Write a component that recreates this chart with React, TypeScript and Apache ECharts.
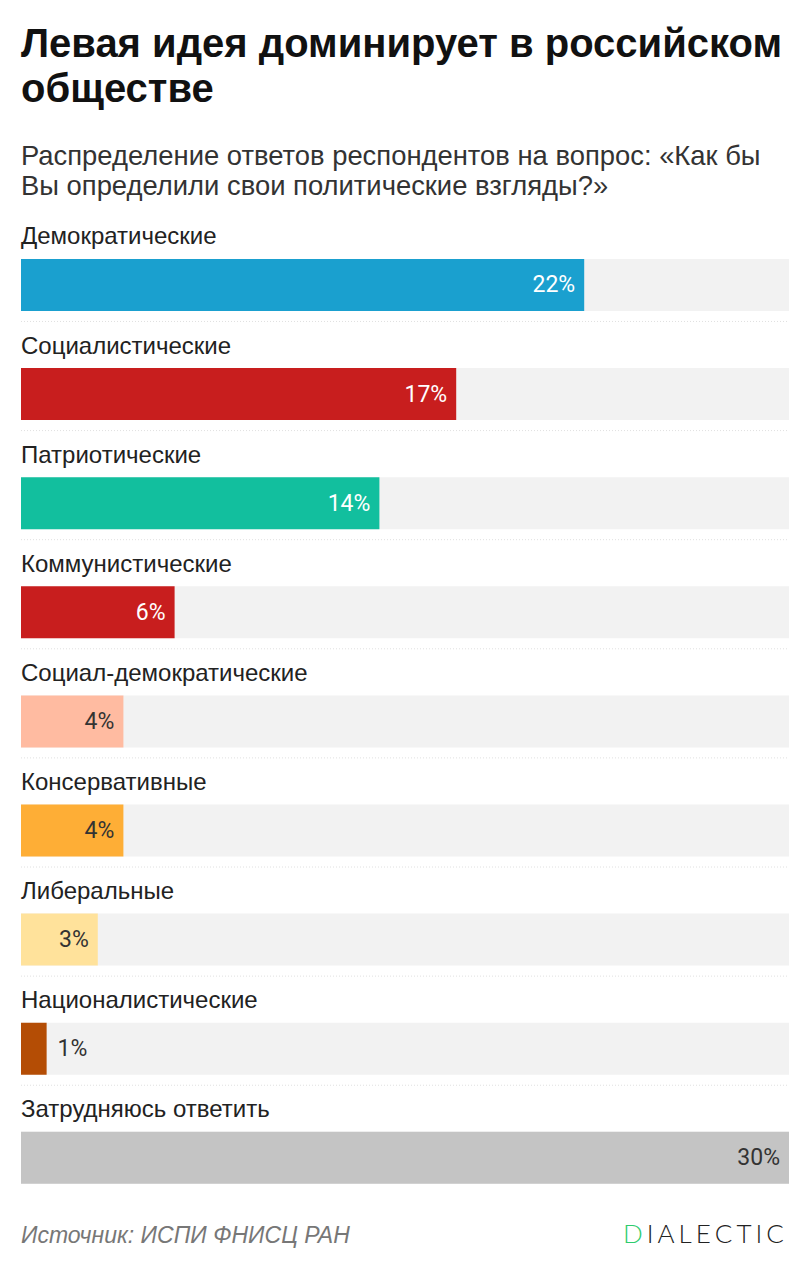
import React, { useEffect, useRef } from "react";
import * as echarts from "echarts";

const categories = [
  "Демократические",
  "Социалистические",
  "Патриотические",
  "Коммунистические",
  "Социал-демократические",
  "Консервативные",
  "Либеральные",
  "Националистические",
  "Затрудняюсь ответить",
];
const values = [22, 17, 14, 6, 4, 4, 3, 1, 30];
const barColors = ["#1aa0cf", "#c81e1e", "#12bf9e", "#c81e1e", "#ffbba1", "#feae36", "#ffe29b", "#b44d05", "#c4c4c4"];
const labelColors = ["#ffffff", "#ffffff", "#ffffff", "#ffffff", "#333333", "#333333", "#333333", "#333333", "#333333"];
const axisMax = 30;
const title = "Левая идея доминирует в российском\nобществе";
const subtitle = "Распределение ответов респондентов на вопрос: «Как бы\nВы определили свои политические взгляды?»";
const source = "Источник: ИСПИ ФНИСЦ РАН";
const logo = "DIALECTIC";

export default function App() {
  const ref = useRef<HTMLDivElement>(null);
  useEffect(() => {
    if (!ref.current) return;
    const chart = echarts.init(ref.current, null, { renderer: "svg" });
    const font = "'Liberation Sans', Arial, sans-serif";
    chart.setOption({
      animation: false,
      backgroundColor: "#ffffff",
      grid: { left: 21, right: 22, top: 230.4, height: 982, containLabel: false },
      xAxis: { type: "value", min: 0, max: axisMax, show: false },
      yAxis: { type: "category", data: categories, inverse: true, show: false },
      series: [
        {
          type: "bar",
          data: categories.map(() => axisMax),
          barWidth: 52,
          barGap: "-100%",
          silent: true,
          itemStyle: { color: "#f2f2f2" },
          label: {
            show: true,
            position: [0, -11],
            verticalAlign: "bottom",
            align: "left",
            formatter: (p: any) => p.name,
            fontFamily: font,
            fontSize: 24,
            lineHeight: 24,
            color: "#222222",
          },
          z: 1,
        },
        {
          type: "bar",
          barWidth: 52,
          barGap: "-100%",
          data: values.map((v, i) => ({
            value: v,
            itemStyle: { color: barColors[i] },
            label: v < 2
              ? { position: "right", distance: 11, color: labelColors[i] }
              : { position: "insideRight", distance: 9, color: labelColors[i] },
          })),
          label: {
            show: true,
            formatter: "{c}%",
            fontFamily: "Roboto, sans-serif",
            fontSize: 23,
          },
          z: 2,
        },
      ],
    });

    const graphics: any[] = [];
    graphics.push({
      type: "text",
      left: 21,
      top: 20.5,
      style: { text: title, font: `bold 40px ${font}`, lineHeight: 45, fill: "#111111" },
    });
    graphics.push({
      type: "text",
      left: 21,
      top: 140.5,
      style: { text: subtitle, font: `27.4px ${font}`, lineHeight: 30, fill: "#333333" },
    });
    for (let i = 0; i < categories.length - 1; i++) {
      const y = (chart.convertToPixel({ yAxisIndex: 0 }, i) as number) + 36.5;
      const x0 = chart.convertToPixel({ xAxisIndex: 0 }, 0) as number;
      const x1 = chart.convertToPixel({ xAxisIndex: 0 }, axisMax) as number;
      graphics.push({
        type: "line",
        silent: true,
        shape: { x1: x0, y1: y, x2: x1, y2: y },
        style: { stroke: "#e0e0e0", lineWidth: 1, lineDash: [1, 2] },
      });
    }
    graphics.push({
      type: "text",
      left: 21,
      top: 1223,
      style: { text: source, font: `italic 23px ${font}`, fill: "#777777" },
    });
    const logoFont = "300 26px Lato, 'Open Sans', sans-serif";
    let lx = 623;
    for (let i = 0; i < logo.length; i++) {
      const ch = logo[i];
      const t = new echarts.graphic.Text({ style: { text: ch, font: logoFont } });
      const w = t.getBoundingRect().width;
      graphics.push({
        type: "text",
        x: lx,
        y: 1220,
        style: { text: ch, font: logoFont, fill: i === 0 ? "#2ecc6e" : "#222222" },
      });
      lx += w + 4;
    }
    chart.setOption({ graphic: graphics });
    return () => chart.dispose();
  }, []);
  return <div ref={ref} style={{ position: "fixed", left: 0, top: 0, width: 811, height: 1280 }} />;
}
